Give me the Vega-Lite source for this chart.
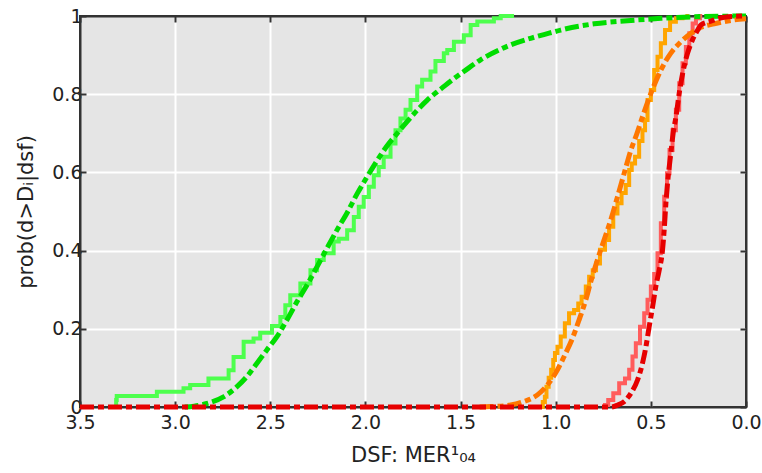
{
  "$schema": "https://vega.github.io/schema/vega-lite/v6.json",
  "width": 666,
  "height": 391,
  "autosize": "none",
  "padding": {"left": 80, "top": 16, "right": 16, "bottom": 66},
  "background": "white",
  "config": {
    "view": {"fill": "#e5e5e5", "stroke": "#333333", "strokeWidth": 2},
    "font": "DejaVu Sans",
    "axis": {
      "labelFont": "DejaVu Sans", "titleFont": "DejaVu Sans",
      "labelFontSize": 19, "titleFontSize": 21,
      "labelColor": "#222222", "titleColor": "#222222", "titleFontWeight": "normal",
      "domainColor": "#333333", "domainWidth": 2,
      "tickColor": "#333333", "tickWidth": 2,
      "gridOpacity": 1, "gridWidth": 2,
      "labelFlush": false, "labelOverlap": false
    }
  },
  "datasets": {
    "empirical": [
      {"curve": "1", "dsf": 3.31, "prob": 0.0},
      {"curve": "1", "dsf": 3.307, "prob": 0.018},
      {"curve": "1", "dsf": 3.096, "prob": 0.028},
      {"curve": "1", "dsf": 2.956, "prob": 0.039},
      {"curve": "1", "dsf": 2.921, "prob": 0.048},
      {"curve": "1", "dsf": 2.825, "prob": 0.056},
      {"curve": "1", "dsf": 2.719, "prob": 0.073},
      {"curve": "1", "dsf": 2.693, "prob": 0.094},
      {"curve": "1", "dsf": 2.64, "prob": 0.128},
      {"curve": "1", "dsf": 2.588, "prob": 0.167},
      {"curve": "1", "dsf": 2.553, "prob": 0.175},
      {"curve": "1", "dsf": 2.491, "prob": 0.19},
      {"curve": "1", "dsf": 2.447, "prob": 0.207},
      {"curve": "1", "dsf": 2.421, "prob": 0.23},
      {"curve": "1", "dsf": 2.395, "prob": 0.26},
      {"curve": "1", "dsf": 2.342, "prob": 0.286},
      {"curve": "1", "dsf": 2.289, "prob": 0.316},
      {"curve": "1", "dsf": 2.254, "prob": 0.35},
      {"curve": "1", "dsf": 2.219, "prob": 0.376},
      {"curve": "1", "dsf": 2.167, "prob": 0.393},
      {"curve": "1", "dsf": 2.14, "prob": 0.423},
      {"curve": "1", "dsf": 2.096, "prob": 0.43},
      {"curve": "1", "dsf": 2.061, "prob": 0.452},
      {"curve": "1", "dsf": 2.035, "prob": 0.486},
      {"curve": "1", "dsf": 2.009, "prob": 0.512},
      {"curve": "1", "dsf": 1.982, "prob": 0.537},
      {"curve": "1", "dsf": 1.956, "prob": 0.563},
      {"curve": "1", "dsf": 1.93, "prob": 0.593},
      {"curve": "1", "dsf": 1.904, "prob": 0.614},
      {"curve": "1", "dsf": 1.868, "prob": 0.64},
      {"curve": "1", "dsf": 1.842, "prob": 0.674},
      {"curve": "1", "dsf": 1.816, "prob": 0.708},
      {"curve": "1", "dsf": 1.789, "prob": 0.738},
      {"curve": "1", "dsf": 1.763, "prob": 0.76},
      {"curve": "1", "dsf": 1.728, "prob": 0.785},
      {"curve": "1", "dsf": 1.702, "prob": 0.82},
      {"curve": "1", "dsf": 1.658, "prob": 0.837},
      {"curve": "1", "dsf": 1.632, "prob": 0.858},
      {"curve": "1", "dsf": 1.588, "prob": 0.885},
      {"curve": "1", "dsf": 1.57, "prob": 0.905},
      {"curve": "1", "dsf": 1.535, "prob": 0.913},
      {"curve": "1", "dsf": 1.483, "prob": 0.934},
      {"curve": "1", "dsf": 1.447, "prob": 0.951},
      {"curve": "1", "dsf": 1.412, "prob": 0.977},
      {"curve": "1", "dsf": 1.325, "prob": 0.986},
      {"curve": "1", "dsf": 1.289, "prob": 0.994},
      {"curve": "1", "dsf": 1.219, "prob": 1.0},
      {"curve": "2", "dsf": 1.075, "prob": 0.0},
      {"curve": "2", "dsf": 1.061, "prob": 0.013},
      {"curve": "2", "dsf": 1.053, "prob": 0.026},
      {"curve": "2", "dsf": 1.044, "prob": 0.052},
      {"curve": "2", "dsf": 1.03, "prob": 0.075},
      {"curve": "2", "dsf": 1.018, "prob": 0.095},
      {"curve": "2", "dsf": 1.008, "prob": 0.12},
      {"curve": "2", "dsf": 1.0, "prob": 0.138},
      {"curve": "2", "dsf": 0.982, "prob": 0.154},
      {"curve": "2", "dsf": 0.965, "prob": 0.18},
      {"curve": "2", "dsf": 0.939, "prob": 0.214},
      {"curve": "2", "dsf": 0.921, "prob": 0.24},
      {"curve": "2", "dsf": 0.886, "prob": 0.248},
      {"curve": "2", "dsf": 0.877, "prob": 0.265},
      {"curve": "2", "dsf": 0.851, "prob": 0.282},
      {"curve": "2", "dsf": 0.833, "prob": 0.308},
      {"curve": "2", "dsf": 0.816, "prob": 0.333},
      {"curve": "2", "dsf": 0.795, "prob": 0.35},
      {"curve": "2", "dsf": 0.781, "prob": 0.367},
      {"curve": "2", "dsf": 0.754, "prob": 0.402},
      {"curve": "2", "dsf": 0.728, "prob": 0.427},
      {"curve": "2", "dsf": 0.711, "prob": 0.461},
      {"curve": "2", "dsf": 0.684, "prob": 0.495},
      {"curve": "2", "dsf": 0.667, "prob": 0.521},
      {"curve": "2", "dsf": 0.641, "prob": 0.547},
      {"curve": "2", "dsf": 0.623, "prob": 0.568},
      {"curve": "2", "dsf": 0.605, "prob": 0.606},
      {"curve": "2", "dsf": 0.596, "prob": 0.623},
      {"curve": "2", "dsf": 0.57, "prob": 0.64},
      {"curve": "2", "dsf": 0.553, "prob": 0.68},
      {"curve": "2", "dsf": 0.535, "prob": 0.708},
      {"curve": "2", "dsf": 0.526, "prob": 0.734},
      {"curve": "2", "dsf": 0.509, "prob": 0.785},
      {"curve": "2", "dsf": 0.491, "prob": 0.811},
      {"curve": "2", "dsf": 0.474, "prob": 0.862},
      {"curve": "2", "dsf": 0.456, "prob": 0.896},
      {"curve": "2", "dsf": 0.439, "prob": 0.93},
      {"curve": "2", "dsf": 0.412, "prob": 0.964},
      {"curve": "2", "dsf": 0.386, "prob": 0.985},
      {"curve": "2", "dsf": 0.351, "prob": 0.994},
      {"curve": "2", "dsf": 0.316, "prob": 0.997},
      {"curve": "2", "dsf": 0.3, "prob": 1.0},
      {"curve": "3", "dsf": 0.745, "prob": 0.0},
      {"curve": "3", "dsf": 0.737, "prob": 0.005},
      {"curve": "3", "dsf": 0.711, "prob": 0.018},
      {"curve": "3", "dsf": 0.684, "prob": 0.035},
      {"curve": "3", "dsf": 0.649, "prob": 0.061},
      {"curve": "3", "dsf": 0.623, "prob": 0.073},
      {"curve": "3", "dsf": 0.605, "prob": 0.095},
      {"curve": "3", "dsf": 0.588, "prob": 0.129},
      {"curve": "3", "dsf": 0.57, "prob": 0.163},
      {"curve": "3", "dsf": 0.544, "prob": 0.205},
      {"curve": "3", "dsf": 0.526, "prob": 0.24},
      {"curve": "3", "dsf": 0.509, "prob": 0.274},
      {"curve": "3", "dsf": 0.491, "prob": 0.308},
      {"curve": "3", "dsf": 0.474, "prob": 0.34},
      {"curve": "3", "dsf": 0.456, "prob": 0.393},
      {"curve": "3", "dsf": 0.439, "prob": 0.47},
      {"curve": "3", "dsf": 0.421, "prob": 0.538},
      {"curve": "3", "dsf": 0.409, "prob": 0.598},
      {"curve": "3", "dsf": 0.395, "prob": 0.657},
      {"curve": "3", "dsf": 0.377, "prob": 0.708},
      {"curve": "3", "dsf": 0.36, "prob": 0.76},
      {"curve": "3", "dsf": 0.342, "prob": 0.828},
      {"curve": "3", "dsf": 0.325, "prob": 0.879},
      {"curve": "3", "dsf": 0.307, "prob": 0.921},
      {"curve": "3", "dsf": 0.289, "prob": 0.956},
      {"curve": "3", "dsf": 0.272, "prob": 0.981},
      {"curve": "3", "dsf": 0.254, "prob": 0.994},
      {"curve": "3", "dsf": 0.23, "prob": 1.0}
    ],
    "fit": [
      {"curve": "1", "dsf": 2.95, "prob": 0.0},
      {"curve": "1", "dsf": 2.9, "prob": 0.002},
      {"curve": "1", "dsf": 2.833, "prob": 0.009},
      {"curve": "1", "dsf": 2.746, "prob": 0.026},
      {"curve": "1", "dsf": 2.675, "prob": 0.052},
      {"curve": "1", "dsf": 2.623, "prob": 0.078},
      {"curve": "1", "dsf": 2.57, "prob": 0.112},
      {"curve": "1", "dsf": 2.518, "prob": 0.146},
      {"curve": "1", "dsf": 2.465, "prob": 0.18},
      {"curve": "1", "dsf": 2.412, "prob": 0.223},
      {"curve": "1", "dsf": 2.36, "prob": 0.269},
      {"curve": "1", "dsf": 2.307, "prob": 0.312},
      {"curve": "1", "dsf": 2.254, "prob": 0.359},
      {"curve": "1", "dsf": 2.202, "prob": 0.406},
      {"curve": "1", "dsf": 2.149, "prob": 0.453},
      {"curve": "1", "dsf": 2.096, "prob": 0.497},
      {"curve": "1", "dsf": 2.044, "prob": 0.545},
      {"curve": "1", "dsf": 1.991, "prob": 0.589},
      {"curve": "1", "dsf": 1.939, "prob": 0.63},
      {"curve": "1", "dsf": 1.886, "prob": 0.668},
      {"curve": "1", "dsf": 1.833, "prob": 0.7},
      {"curve": "1", "dsf": 1.781, "prob": 0.73},
      {"curve": "1", "dsf": 1.728, "prob": 0.759},
      {"curve": "1", "dsf": 1.675, "prob": 0.785},
      {"curve": "1", "dsf": 1.605, "prob": 0.813},
      {"curve": "1", "dsf": 1.535, "prob": 0.84},
      {"curve": "1", "dsf": 1.483, "prob": 0.858},
      {"curve": "1", "dsf": 1.395, "prob": 0.888},
      {"curve": "1", "dsf": 1.289, "prob": 0.915},
      {"curve": "1", "dsf": 1.237, "prob": 0.926},
      {"curve": "1", "dsf": 1.132, "prob": 0.943},
      {"curve": "1", "dsf": 1.035, "prob": 0.956},
      {"curve": "1", "dsf": 0.974, "prob": 0.964},
      {"curve": "1", "dsf": 0.798, "prob": 0.98},
      {"curve": "1", "dsf": 0.623, "prob": 0.988},
      {"curve": "1", "dsf": 0.447, "prob": 0.994},
      {"curve": "1", "dsf": 0.274, "prob": 0.998},
      {"curve": "1", "dsf": 0.0, "prob": 1.0},
      {"curve": "2", "dsf": 1.4, "prob": 0.0},
      {"curve": "2", "dsf": 1.342, "prob": 0.001},
      {"curve": "2", "dsf": 1.237, "prob": 0.005},
      {"curve": "2", "dsf": 1.167, "prob": 0.014},
      {"curve": "2", "dsf": 1.096, "prob": 0.031},
      {"curve": "2", "dsf": 1.044, "prob": 0.056},
      {"curve": "2", "dsf": 0.991, "prob": 0.095},
      {"curve": "2", "dsf": 0.956, "prob": 0.129},
      {"curve": "2", "dsf": 0.912, "prob": 0.176},
      {"curve": "2", "dsf": 0.877, "prob": 0.223},
      {"curve": "2", "dsf": 0.842, "prob": 0.274},
      {"curve": "2", "dsf": 0.816, "prob": 0.32},
      {"curve": "2", "dsf": 0.781, "prob": 0.376},
      {"curve": "2", "dsf": 0.746, "prob": 0.427},
      {"curve": "2", "dsf": 0.711, "prob": 0.478},
      {"curve": "2", "dsf": 0.675, "prob": 0.538},
      {"curve": "2", "dsf": 0.64, "prob": 0.598},
      {"curve": "2", "dsf": 0.605, "prob": 0.657},
      {"curve": "2", "dsf": 0.575, "prob": 0.697},
      {"curve": "2", "dsf": 0.544, "prob": 0.742},
      {"curve": "2", "dsf": 0.5, "prob": 0.802},
      {"curve": "2", "dsf": 0.447, "prob": 0.862},
      {"curve": "2", "dsf": 0.395, "prob": 0.905},
      {"curve": "2", "dsf": 0.342, "prob": 0.934},
      {"curve": "2", "dsf": 0.289, "prob": 0.956},
      {"curve": "2", "dsf": 0.237, "prob": 0.971},
      {"curve": "2", "dsf": 0.167, "prob": 0.98},
      {"curve": "2", "dsf": 0.061, "prob": 0.99},
      {"curve": "2", "dsf": 0.0, "prob": 0.993},
      {"curve": "3", "dsf": 3.5, "prob": 0.0},
      {"curve": "3", "dsf": 0.71, "prob": 0.0},
      {"curve": "3", "dsf": 0.675, "prob": 0.005},
      {"curve": "3", "dsf": 0.64, "prob": 0.014},
      {"curve": "3", "dsf": 0.605, "prob": 0.035},
      {"curve": "3", "dsf": 0.57, "prob": 0.069},
      {"curve": "3", "dsf": 0.544, "prob": 0.112},
      {"curve": "3", "dsf": 0.526, "prob": 0.154},
      {"curve": "3", "dsf": 0.509, "prob": 0.205},
      {"curve": "3", "dsf": 0.491, "prob": 0.256},
      {"curve": "3", "dsf": 0.474, "prob": 0.308},
      {"curve": "3", "dsf": 0.456, "prob": 0.35},
      {"curve": "3", "dsf": 0.439, "prob": 0.4},
      {"curve": "3", "dsf": 0.43, "prob": 0.453},
      {"curve": "3", "dsf": 0.421, "prob": 0.521},
      {"curve": "3", "dsf": 0.409, "prob": 0.589},
      {"curve": "3", "dsf": 0.395, "prob": 0.649},
      {"curve": "3", "dsf": 0.383, "prob": 0.7},
      {"curve": "3", "dsf": 0.368, "prob": 0.742},
      {"curve": "3", "dsf": 0.351, "prob": 0.802},
      {"curve": "3", "dsf": 0.333, "prob": 0.853},
      {"curve": "3", "dsf": 0.307, "prob": 0.905},
      {"curve": "3", "dsf": 0.281, "prob": 0.939},
      {"curve": "3", "dsf": 0.254, "prob": 0.964},
      {"curve": "3", "dsf": 0.237, "prob": 0.977},
      {"curve": "3", "dsf": 0.184, "prob": 0.987},
      {"curve": "3", "dsf": 0.114, "prob": 0.997},
      {"curve": "3", "dsf": 0.0, "prob": 1.0}
    ]
  },
  "layer": [
    {
      "data": {"name": "empirical"},
      "transform": [{"filter": "datum.curve === '1'"}],
      "mark": {"type": "line", "interpolate": "step-before", "strokeWidth": 4},
      "encoding": {
        "x": {
          "field": "dsf", "type": "quantitative",
          "scale": {"domain": [0, 3.5], "reverse": true, "nice": false, "zero": false},
          "axis": {
            "orient": "bottom", "title": "DSF: MER¹₀₄",
            "values": [0, 0.5, 1, 1.5, 2, 2.5, 3, 3.5], "format": ".1f",
            "tickSize": -6, "labelPadding": 12, "titlePadding": 12,
            "grid": true,
            "gridColor": {"condition": {"test": "datum.value === 0 || datum.value === 3.5", "value": "transparent"}, "value": "#ffffff"}
          }
        },
        "y": {
          "field": "prob", "type": "quantitative",
          "scale": {"domain": [0, 1], "nice": false},
          "axis": {
            "orient": "left", "title": "prob(d>Dᵢ|dsf)",
            "values": [0, 0.2, 0.4, 0.6, 0.8, 1], "format": "~g",
            "tickSize": -6, "labelPadding": 4, "titlePadding": 15,
            "grid": true,
            "gridColor": {"condition": {"test": "datum.value === 0 || datum.value === 1", "value": "transparent"}, "value": "#ffffff"}
          }
        },
        "color": {
          "field": "curve", "type": "nominal",
          "scale": {"domain": ["1", "2", "3"], "range": ["#4dff4d", "#ffa500", "#ff5c5c"]},
          "legend": null
        }
      }
    },
    {
      "data": {"name": "empirical"},
      "transform": [{"filter": "datum.curve !== '1'"}],
      "mark": {"type": "line", "interpolate": "step", "strokeWidth": 4},
      "encoding": {
        "x": {"field": "dsf", "type": "quantitative", "axis": null},
        "y": {"field": "prob", "type": "quantitative", "axis": null},
        "color": {
          "field": "curve", "type": "nominal",
          "scale": {"domain": ["1", "2", "3"], "range": ["#4dff4d", "#ffa500", "#ff5c5c"]},
          "legend": null
        }
      }
    },
    {
      "data": {"name": "fit"},
      "mark": {"type": "line", "interpolate": "monotone", "strokeWidth": 5, "strokeDash": [14, 4, 6, 4]},
      "encoding": {
        "x": {
          "field": "dsf", "type": "quantitative",
          "axis": {"orient": "top", "title": null, "labels": false, "values": [0, 0.5, 1, 1.5, 2, 2.5, 3, 3.5], "tickSize": -6, "grid": false}
        },
        "y": {
          "field": "prob", "type": "quantitative",
          "axis": {"orient": "right", "title": null, "labels": false, "values": [0, 0.2, 0.4, 0.6, 0.8, 1], "tickSize": -6, "grid": false}
        },
        "color": {
          "field": "curve", "type": "nominal",
          "scale": {"domain": ["1", "2", "3"], "range": ["#00dd00", "#ff7700", "#e60000"]},
          "legend": null
        }
      }
    }
  ],
  "resolve": {"scale": {"color": "independent"}, "axis": {"x": "independent", "y": "independent"}}
}
